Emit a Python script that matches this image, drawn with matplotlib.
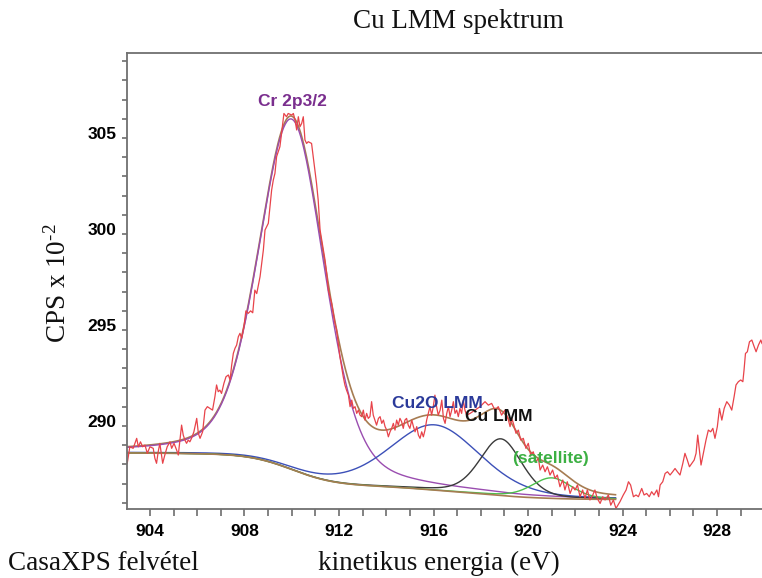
import numpy as np
import matplotlib.pyplot as plt
from matplotlib.ticker import MultipleLocator
from matplotlib.transforms import ScaledTranslation

e_a = [903.04, 903.15, 903.29, 903.44, 903.51, 903.60, 903.69, 903.79, 903.89, 904.00,
       904.14, 904.21, 904.28, 904.35, 904.42, 904.54, 904.63, 904.73, 904.85, 904.92,
       905.02, 905.13, 905.20, 905.27, 905.34, 905.41, 905.48, 905.55, 905.62, 905.69,
       905.76, 905.86, 905.98, 906.05, 906.12, 906.23, 906.33, 906.43, 906.54, 906.65,
       906.75, 906.82, 906.89, 906.96, 907.03, 907.13, 907.22, 907.32, 907.39, 907.46,
       907.53, 907.60, 907.67, 907.74, 907.81, 907.88, 907.98, 908.06, 908.16, 908.26,
       908.35]
c_a = [288.06, 288.92, 288.84, 289.36, 288.92, 289.18, 288.92, 289.01, 288.58, 288.92,
       288.84, 288.32, 288.06, 288.66, 289.10, 288.06, 288.49, 288.92, 289.18, 288.84,
       289.10, 288.75, 288.49, 289.27, 290.05, 289.53, 289.27, 289.10, 289.27, 289.18,
       289.36, 289.70, 290.40, 289.62, 289.36, 289.70, 290.83, 291.01, 290.92, 290.83,
       291.53, 292.14, 291.79, 291.87, 291.70, 292.22, 292.57, 292.66, 292.40, 293.18,
       293.79, 294.05, 294.22, 294.65, 294.83, 294.57, 295.20, 296.00, 295.87, 296.00,
       295.90]

e_b = [908.44, 908.52, 908.66, 908.80, 908.87, 909.01, 909.08, 909.15, 909.22, 909.29,
       909.36, 909.50, 909.57, 909.67, 909.78, 909.85, 910.00, 910.07, 910.14, 910.21,
       910.28, 910.35, 910.42, 910.49, 910.56, 910.63, 910.70, 910.84, 910.91, 910.98,
       911.05, 911.12, 911.20, 911.27, 911.34, 911.41, 911.48, 911.55, 911.69, 911.83]
c_b = [297.08, 296.90, 297.78, 299.17, 300.21, 300.56, 301.42, 302.29, 302.81, 303.16,
       304.03, 304.55, 305.24, 306.28, 306.11, 306.28, 306.20, 306.28, 305.94, 305.42,
       306.11, 305.59, 305.76, 306.11, 304.90, 304.72, 304.81, 304.72, 304.03, 303.33,
       302.64, 301.77, 300.21, 299.69, 299.17, 298.65, 297.95, 297.08, 296.39, 295.35]

e_c = [911.90, 911.97, 912.04, 912.11, 912.18, 912.25, 912.32, 912.40, 912.47, 912.54,
       912.61, 912.68, 912.75, 912.82, 912.89, 912.96, 913.03, 913.10, 913.17, 913.24,
       913.31, 913.38, 913.45, 913.52, 913.59, 913.67, 913.74, 913.81, 913.88, 913.95,
       914.02, 914.09, 914.16, 914.23, 914.30, 914.37, 914.44, 914.51, 914.58, 914.65,
       914.72, 914.79, 914.86, 914.93, 915.00, 915.08, 915.15, 915.22, 915.29, 915.36,
       915.43, 915.50, 915.57, 915.64, 915.71, 915.78, 915.85, 915.92, 915.99, 916.06,
       916.13, 916.20, 916.28, 916.35, 916.42, 916.49, 916.56, 916.63, 916.70, 916.77,
       916.84, 916.91, 916.98, 917.05, 917.12, 917.19, 917.26, 917.33, 917.40, 917.55,
       917.75]
c_c = [295.00, 294.30, 293.61, 293.09, 292.57, 292.14, 291.87, 291.61, 291.01, 291.35,
       290.92, 291.01, 290.66, 290.83, 290.57, 290.49, 290.83, 290.31, 290.66, 290.40,
       290.49, 291.27, 290.57, 290.31, 290.05, 290.40, 290.49, 290.14, 290.31, 289.97,
       289.79, 289.44, 289.70, 289.88, 290.14, 289.79, 290.31, 290.05, 290.40, 290.23,
       289.88, 290.31, 290.40, 290.05, 289.88, 290.31, 289.97, 289.70, 289.97, 289.53,
       289.36, 289.70, 289.44, 289.79, 290.31, 290.66, 291.01, 290.57, 291.01, 291.61,
       291.01, 290.57, 290.83, 291.35, 290.40, 290.14, 290.66, 291.01, 290.49, 290.83,
       291.27, 290.66, 290.83, 290.49, 290.92, 290.66, 291.35, 290.83, 290.57, 290.66,
       290.83]

e_d = [917.97, 918.18, 918.32, 918.46, 918.60, 918.74, 918.88, 919.02, 919.17, 919.24,
       919.31, 919.38, 919.49, 919.59, 919.69, 919.80, 919.91, 920.01, 920.11, 920.22,
       920.34, 920.44, 920.51, 920.62, 920.72, 920.82, 920.93, 921.04, 921.14, 921.24,
       921.35, 921.47, 921.56, 921.66, 921.78, 921.89, 921.99, 922.09, 922.20, 922.31,
       922.41, 922.51, 922.62, 922.74, 922.83, 922.93, 923.05, 923.16, 923.26, 923.40,
       923.50, 923.61, 923.72]
c_d = [291.01, 291.27, 291.09, 291.18, 290.83, 291.01, 290.57, 290.83, 290.31, 289.97,
       290.40, 290.14, 289.62, 289.79, 289.27, 289.36, 288.84, 289.10, 288.49, 288.66,
       288.14, 288.32, 287.71, 287.97, 287.62, 287.88, 287.45, 287.71, 287.28, 287.45,
       286.84, 287.19, 286.67, 287.10, 286.49, 286.84, 286.67, 286.93, 286.32, 286.67,
       286.23, 286.67, 286.15, 286.41, 286.67, 286.23, 285.97, 286.32, 286.15, 286.41,
       285.88, 286.15, 285.71]

e_e = [923.89, 924.03, 924.15, 924.25, 924.34, 924.46, 924.57, 924.67, 924.81, 924.91,
       925.02, 925.13, 925.23, 925.33, 925.45, 925.52, 925.59, 925.70, 925.80, 925.90,
       926.01, 926.12, 926.22, 926.32, 926.43, 926.55, 926.64, 926.74, 926.83, 926.93,
       927.03, 927.11, 927.18, 927.25, 927.32, 927.42, 927.53, 927.63, 927.73, 927.82,
       927.91, 928.01, 928.10, 928.20, 928.30, 928.41, 928.52, 928.62, 928.72, 928.80,
       928.90, 929.00, 929.09, 929.14, 929.20, 929.28, 929.37, 929.47, 929.57, 929.65,
       929.75, 929.85, 929.90]
c_e = [286.06, 286.41, 286.67, 287.10, 286.93, 286.32, 286.41, 286.32, 286.75, 286.41,
       286.49, 286.32, 286.58, 286.41, 286.67, 286.32, 286.93, 287.10, 287.53, 287.62,
       287.45, 287.62, 287.79, 287.62, 287.45, 288.06, 288.58, 288.23, 287.88, 288.06,
       288.23, 288.58, 289.53, 288.75, 287.97, 288.58, 289.27, 289.79, 289.70, 289.88,
       289.36, 289.97, 290.92, 290.31, 290.92, 291.27, 291.09, 290.83, 291.53, 292.14,
       292.31, 292.40, 292.31, 292.92, 293.78, 293.87, 294.39, 294.48, 294.13, 293.87,
       294.22, 294.48, 294.30]

energy = np.array(e_a + e_b + e_c + e_d + e_e)
counts = np.array(c_a + c_b + c_c + c_d + c_e)

# fit components (CasaXPS style GL(30)): position, fwhm, height above background
peak_names = ['Cr 2p3/2', 'Cu2O LMM', 'Cu LMM', '(satellite)']
peak_pos = [910.0, 916.05, 918.85, 921.0]
peak_fwhm = [3.3, 4.5, 2.1, 2.0]
peak_height = [18.25, 3.4, 2.95, 1.07]
line_colors = ['#9a4db0', '#3c50b8', '#3a3a3a', '#4cbf4c']
text_colors = ['#7a2e8e', '#2b3a9a', '#111111', '#3cb043']
label_pos = [(910.05, 306.9), (916.15, 291.2), (918.77, 290.52), (920.93, 288.33)]

# shirley background end points
bg_left, bg_right = 288.6, 286.18
region = (903.03, 923.7)


def gl(x, pos, fwhm, h, m=0.3):
    u = (x - pos) / fwhm
    return h * ((1 - m) * np.exp(-4 * np.log(2) * u**2) + m / (1 + 4 * u**2))


x = np.linspace(region[0], region[1], 600)
comps = [gl(x, p, f, h) for p, f, h in zip(peak_pos, peak_fwhm, peak_height)]
total = np.sum(comps, axis=0)
right_area = np.cumsum(total[::-1])[::-1]
bg = bg_right + (bg_left - bg_right) * right_area / right_area[0]
envelope = bg + total

plt.rcParams['mathtext.fontset'] = 'custom'
plt.rcParams['mathtext.rm'] = 'Liberation Serif'
plt.rcParams['mathtext.it'] = 'Liberation Serif:italic'

fig = plt.figure(figsize=(7.62, 5.78), dpi=100)
ax = fig.add_axes([127/762, 1 - 509/578, 1 - 127/762, (509 - 53)/578])

# envelope underneath, components, then background line and data on top
ax.plot(x, envelope, color='#a67c52', lw=1.2)
for c, col in zip(comps, line_colors):
    ax.plot(x, bg + c, color=col, lw=1.0)
ax.plot(x, bg, color='#a67c52', lw=1.2)
ax.plot(energy, counts, color='#e8434a', lw=0.9)

for name, col, (lx, ly) in zip(peak_names, text_colors, label_pos):
    ax.text(lx, ly, name, color=col, fontsize=12.5, fontweight='bold',
            family='Liberation Sans', ha='center', va='center')

ax.set_xlim(903.03, 929.9)
ax.set_ylim(285.68, 309.43)
ax.xaxis.set_major_locator(MultipleLocator(4))
ax.xaxis.set_minor_locator(MultipleLocator(1))
ax.set_yticks([290, 295, 300, 305])
ax.yaxis.set_minor_locator(MultipleLocator(1))

ax.spines['right'].set_visible(False)
for s in ['left', 'top', 'bottom']:
    ax.spines[s].set_color('#707070')
    ax.spines[s].set_linewidth(1.3)
ax.tick_params(axis='x', which='both', direction='out', length=5, width=1.1,
               color='#606060', pad=6)
ax.tick_params(axis='y', which='both', direction='out', length=3.5, width=1.1,
               color='#606060', pad=4)
for lab in ax.get_xticklabels() + ax.get_yticklabels():
    lab.set_fontfamily('Liberation Sans')
    lab.set_fontweight('bold')
    lab.set_fontsize(12.5)
# y labels sit a little above their ticks in the original
shift = ScaledTranslation(0, 4/72, fig.dpi_scale_trans)
for lab in ax.get_yticklabels():
    lab.set_transform(lab.get_transform() + shift)

serif = dict(family='Liberation Serif', fontsize=19.5, color='#111111')
fig.text(458/762, 1 - 22/578, 'Cu LMM spektrum', ha='center', va='center', **serif)
fig.text(439/762, 1 - 563/578, 'kinetikus energia (eV)', ha='center', va='center', **serif)
fig.text(8/762, 1 - 563/578, 'CasaXPS felvétel', ha='left', va='center', **serif)
fig.text(58/762, 1 - 283/578, 'CPS x 10$^{\u2010 2}$', ha='center', va='center',
         rotation=90, **serif)

fig.savefig('out.png', dpi=100)
